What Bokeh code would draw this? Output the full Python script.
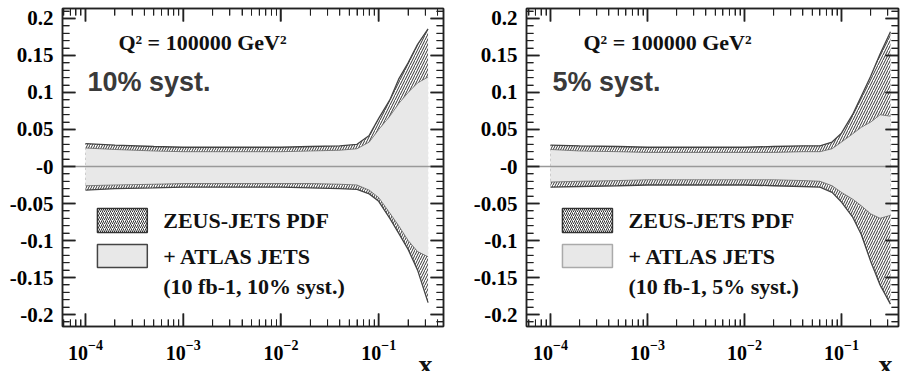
import numpy as np
from bokeh.plotting import figure
from bokeh.models import (Range1d, FixedTicker, LinearAxis, LogAxis, Span, Label,
                          CustomJSTickFormatter, Title)
from bokeh.layouts import row
from bokeh.embed import file_html
from bokeh.resources import INLINE

# ---------------- data ----------------
x_vals = [1e-4, 2e-4, 5e-4, 1e-3, 2e-3, 5e-3, 1e-2, 2e-2, 4e-2, 6e-2, 8e-2,
          0.1, 0.13, 0.16, 0.2, 0.25, 0.32]

# 10% syst. panel
zeus_up_10 = [0.031, 0.029, 0.027, 0.026, 0.026, 0.026, 0.026, 0.027, 0.028, 0.030, 0.042,
              0.065, 0.090, 0.118, 0.140, 0.165, 0.186]
zeus_lo_10 = [-0.032, -0.030, -0.029, -0.028, -0.028, -0.028, -0.028, -0.029, -0.030, -0.031, -0.037,
              -0.047, -0.070, -0.090, -0.112, -0.140, -0.184]
atlas_up_10 = [0.025, 0.023, 0.021, 0.020, 0.020, 0.020, 0.020, 0.021, 0.022, 0.024, 0.033,
               0.050, 0.068, 0.085, 0.100, 0.113, 0.121]
atlas_lo_10 = [-0.026, -0.025, -0.024, -0.023, -0.023, -0.023, -0.023, -0.023, -0.024, -0.025, -0.032,
               -0.042, -0.063, -0.080, -0.100, -0.115, -0.122]

# 5% syst. panel
zeus_up_5 = [0.029, 0.028, 0.027, 0.026, 0.026, 0.026, 0.026, 0.027, 0.028, 0.028, 0.033,
             0.045, 0.070, 0.095, 0.122, 0.152, 0.182]
zeus_lo_5 = [-0.028, -0.027, -0.026, -0.025, -0.025, -0.025, -0.025, -0.026, -0.027, -0.028, -0.035,
             -0.048, -0.068, -0.092, -0.128, -0.160, -0.186]
atlas_up_5 = [0.023, 0.021, 0.020, 0.019, 0.019, 0.019, 0.019, 0.019, 0.020, 0.020, 0.024,
              0.033, 0.044, 0.053, 0.060, 0.070, 0.068]
atlas_lo_5 = [-0.021, -0.020, -0.019, -0.018, -0.018, -0.018, -0.018, -0.018, -0.019, -0.020, -0.026,
              -0.035, -0.044, -0.053, -0.064, -0.070, -0.066]

x_major_ticks = [1e-4, 1e-3, 1e-2, 1e-1]
x_minor_ticks = [m * 10.0 ** e for e in range(-5, 0) for m in range(2, 10)]
y_major_ticks = [-0.2, -0.15, -0.1, -0.05, 0, 0.05, 0.1, 0.15, 0.2]
y_minor_ticks = [round(i * 0.01, 2) for i in range(-21, 22)]

q2_text = "Q\u00b2 = 100000 GeV\u00b2"
legend_1 = "ZEUS-JETS PDF"
legend_2 = "+ ATLAS JETS"
x_title = "x"

SERIF = "Liberation Serif"
SANS = "Liberation Sans"
DARK = "#222222"
BAND_GRAY = "#e8e8e8"
Y_LO, Y_HI = -0.2162, 0.2135
PX_PER_UNIT = 740.0
MAJOR_LEN, MINOR_LEN = 13, 7

y_formatter_code = "return tick == 0 ? '-0' : String(Math.round(tick * 100) / 100);"


def style_axis(ax, show_labels):
    ax.axis_line_color = DARK
    ax.axis_line_width = 1.5
    ax.major_tick_in = MAJOR_LEN
    ax.major_tick_out = 0
    ax.minor_tick_in = MINOR_LEN
    ax.minor_tick_out = 0
    ax.major_tick_line_color = DARK
    ax.major_tick_line_width = 1.5
    ax.minor_tick_line_color = DARK
    ax.minor_tick_line_width = 1
    if not show_labels:
        ax.major_label_text_font_size = "1px"
        ax.major_label_text_alpha = 0
        ax.major_label_standoff = 0
    else:
        ax.major_label_text_font = SERIF
        ax.major_label_text_font_style = "bold"
        ax.major_label_text_color = "black"


def make_panel(xr, border_left, border_right, px0, dec, title_offset,
               zu, zl, au, al, syst_text, note_text, gray_box_line):
    p = figure(width=453, height=371, x_axis_type="log",
               x_range=Range1d(*xr), y_range=Range1d(Y_LO, Y_HI),
               x_axis_location=None, y_axis_location=None,
               output_backend="svg", toolbar_location=None,
               min_border_left=border_left, min_border_right=border_right,
               min_border_top=8, min_border_bottom=45)
    p.outline_line_color = DARK
    p.outline_line_width = 1.5
    p.xgrid.visible = False
    p.ygrid.visible = False

    xt = FixedTicker(ticks=x_major_ticks, minor_ticks=x_minor_ticks)
    yt = FixedTicker(ticks=y_major_ticks, minor_ticks=y_minor_ticks)

    left = LinearAxis(ticker=yt, formatter=CustomJSTickFormatter(code=y_formatter_code))
    style_axis(left, True)
    left.major_label_text_font_size = "21px"
    left.major_label_standoff = 9
    right = LinearAxis(ticker=yt)
    style_axis(right, False)
    below = LogAxis(ticker=xt)
    style_axis(below, True)
    below.major_label_text_font_size = "20px"
    below.major_label_standoff = 13
    above = LogAxis(ticker=xt)
    style_axis(above, False)
    p.add_layout(left, "left")
    p.add_layout(right, "right")
    p.add_layout(below, "below")
    p.add_layout(above, "above")
    p.add_layout(Title(text=x_title, align="right", text_font=SERIF, text_font_style="bold",
                       text_font_size="28px", text_color="#111111", standoff=-35,
                       offset=title_offset), "below")

    # bands
    p.varea(x=x_vals, y1=zl, y2=zu, fill_color="white",
            hatch_pattern="/", hatch_color="#333333", hatch_scale=5, hatch_weight=1)
    p.varea(x=x_vals, y1=al, y2=au, fill_color=BAND_GRAY)
    for arr in (zu, zl):
        p.line(x=x_vals, y=arr, line_color="#444444", line_width=1.3)
    for arr in (au, al):
        p.line(x=x_vals, y=arr, line_color="#666666", line_width=0.8)
    p.add_layout(Span(location=0, dimension="width", line_color="#999999", line_width=1.5))

    # inward frame ticks on all four sides, from the tick arrays
    x_lo, x_hi = xr
    for ticks_x, ticks_y, length, lw in ((x_major_ticks, y_major_ticks, MAJOR_LEN, 1.5),
                                         (x_minor_ticks, y_minor_ticks, MINOR_LEN, 1.0)):
        tx_arr = np.array([t for t in ticks_x if x_lo < t < x_hi])
        ty_arr = np.array([t for t in ticks_y if Y_LO < t < Y_HI])
        dy = length / PX_PER_UNIT
        fx = 10 ** (length / dec)
        p.segment(x0=tx_arr, y0=np.full(len(tx_arr), Y_LO), x1=tx_arr,
                  y1=np.full(len(tx_arr), Y_LO + dy), line_color=DARK, line_width=lw,
                  level="overlay")
        p.segment(x0=tx_arr, y0=np.full(len(tx_arr), Y_HI), x1=tx_arr,
                  y1=np.full(len(tx_arr), Y_HI - dy), line_color=DARK, line_width=lw,
                  level="overlay")
        p.segment(x0=np.full(len(ty_arr), x_lo), y0=ty_arr, x1=np.full(len(ty_arr), x_lo * fx),
                  y1=ty_arr, line_color=DARK, line_width=lw, level="overlay")
        p.segment(x0=np.full(len(ty_arr), x_hi), y0=ty_arr, x1=np.full(len(ty_arr), x_hi / fx),
                  y1=ty_arr, line_color=DARK, line_width=lw, level="overlay")

    def lx(px):
        return 10 ** (-4 + (px - px0) / dec)

    def ly(py):
        return (166 - py) / PX_PER_UNIT

    # annotations
    p.add_layout(Label(x=lx(px0 + 33), y=ly(42), text=q2_text, text_font=SERIF,
                       text_font_style="bold", text_font_size="22px",
                       text_baseline="middle", text_color="#111111"))
    p.add_layout(Label(x=lx(px0 + 2), y=ly(82), text=syst_text, text_font=SANS,
                       text_font_style="bold", text_font_size="27px",
                       text_baseline="middle", text_color="#3a3a3a"))

    # legend boxes
    p.quad(left=[lx(px0 + 12)], right=[lx(px0 + 62)], top=[ly(208)], bottom=[ly(232)],
           fill_color="white", line_color="#333333", line_width=1.5,
           hatch_pattern="/", hatch_color="#333333", hatch_scale=4, hatch_weight=1)
    p.quad(left=[lx(px0 + 12)], right=[lx(px0 + 62)], top=[ly(244)], bottom=[ly(267)],
           fill_color=BAND_GRAY, line_color=gray_box_line, line_width=1.5)
    tx = lx(px0 + 78)
    for txt, py in ((legend_1, 220), (legend_2, 256), (note_text, 286)):
        p.add_layout(Label(x=tx, y=ly(py), text=txt, text_font=SERIF,
                           text_font_style="bold", text_font_size="22px",
                           text_baseline="middle", text_color="#111111"))
    return p


p1 = make_panel((10 ** -4.235, 10 ** -0.337), 62, 10, 85, 98, 11,
                zeus_up_10, zeus_lo_10, atlas_up_10, atlas_lo_10,
                "10% syst.", "(10 fb-1, 10% syst.)", "#444444")
p2 = make_panel((10 ** -4.247, 10 ** -0.412), 73, 8, 550, 97, 6,
                zeus_up_5, zeus_lo_5, atlas_up_5, atlas_lo_5,
                "5% syst.", "(10 fb-1, 5% syst.)", "#aaaaaa")

layout = row(p1, p2)
open("out.html", "w").write(file_html(layout, INLINE))
